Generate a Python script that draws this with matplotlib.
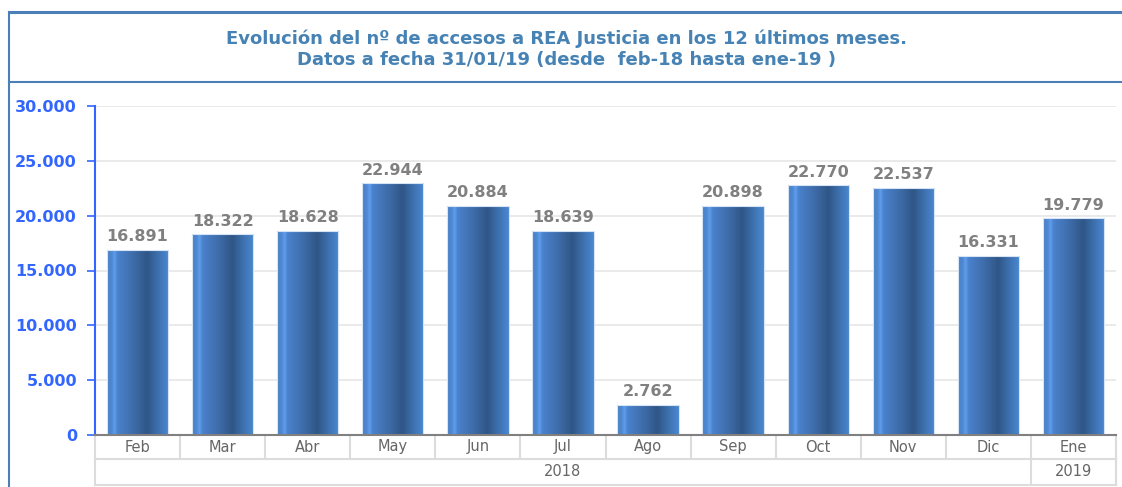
import matplotlib
matplotlib.use("Agg")
import matplotlib.pyplot as plt
import numpy as np
from matplotlib.colors import LinearSegmentedColormap
from matplotlib.lines import Line2D

months = ["Feb", "Mar", "Abr", "May", "Jun", "Jul", "Ago", "Sep", "Oct", "Nov", "Dic", "Ene"]
values = [16891, 18322, 18628, 22944, 20884, 18639, 2762, 20898, 22770, 22537, 16331, 19779]
years = ["2018", "2019"]
year_counts = [11, 1]
yticks = [0, 5000, 10000, 15000, 20000, 25000, 30000]
title = "Evolución del nº de accesos a REA Justicia en los 12 últimos meses.\nDatos a fecha 31/01/19 (desde  feb-18 hasta ene-19 )"

def fmt(v):
    return f"{v:,}".replace(",", ".")

W, H = 1122, 487
fig = plt.figure(figsize=(W / 100, H / 100), dpi=100)
L, R, T, B = 95, 1116, 106, 435
ax = fig.add_axes([L / W, (H - B) / H, (R - L) / W, (B - T) / H])

x = np.arange(len(months))
bars = ax.bar(x, values, width=0.72, color="none", edgecolor="#d6e4f5", linewidth=0.8, zorder=3)

cmap = LinearSegmentedColormap.from_list("barg", [
    (0.0, "#4a80c4"), (0.08, "#4f8ad4"), (0.12, "#609fee"), (0.17, "#4a82cc"),
    (0.45, "#3d6aa6"), (0.65, "#2f5686"), (0.85, "#3f74b4"), (1.0, "#4b88d2")])
grad = np.linspace(0, 1, 256).reshape(1, -1)
for b in bars:
    x0, y0, w, h = b.get_x(), b.get_y(), b.get_width(), b.get_height()
    im = ax.imshow(grad, cmap=cmap, aspect="auto", extent=[x0, x0 + w, y0, y0 + h],
                   zorder=2, interpolation="bilinear")
    im.set_clip_path(b)

for xi, v in zip(x, values):
    ax.text(xi, v + 500, fmt(v), ha="center", va="bottom", fontsize=11.5,
            fontweight="bold", color="#808080", zorder=4)

ax.set_xlim(-0.5, len(months) - 0.5)
ax.set_ylim(0, 30000)
ax.set_yticks(yticks)
ax.set_yticklabels([fmt(t) for t in yticks], fontsize=11.5, fontweight="bold", color="#3366ff")
ax.tick_params(axis="y", length=6, width=1.2, color="#3366ff", pad=7)
ax.set_xticks([])
ax.grid(axis="y", color="#e6e6e6", linewidth=1.2, zorder=0)
ax.set_axisbelow(True)
for s in ["top", "right"]:
    ax.spines[s].set_visible(False)
ax.spines["left"].set_color("#3366ff")
ax.spines["left"].set_linewidth(1.5)
ax.spines["bottom"].set_color("#808080")
ax.spines["bottom"].set_linewidth(1.5)
ax.spines["bottom"].set_zorder(5)

# category table below axes
ph = B - T
r1 = -(459 - B) / ph
r2 = -(485 - B) / ph
n = len(months)
tr = ax.transAxes
gc = "#dcdcdc"
def hline(y, x0=0, x1=1):
    ax.add_line(Line2D([x0, x1], [y, y], transform=tr, color=gc, lw=1.5, clip_on=False))
def vline(xx, y0, y1):
    ax.add_line(Line2D([xx, xx], [y0, y1], transform=tr, color=gc, lw=1.5, clip_on=False))
hline(r1)
hline(r2)
for i in range(n + 1):
    vline(i / n, 0, r1)
vline(0, r1, r2)
vline(1, r1, r2)
for i, m in enumerate(months):
    ax.text((i + 0.5) / n, r1 / 2, m, transform=tr, ha="center", va="center",
            fontsize=10.5, color="#666666")
start = 0
for yl, c in zip(years, year_counts):
    end = start + c
    vline(end / n, r1, r2)
    ax.text((start + end) / 2 / n, (r1 + r2) / 2, yl, transform=tr, ha="center",
            va="center", fontsize=10.5, color="#666666")
    start = end

# frame lines
fc = "#4a7fb8"
fig.add_artist(Line2D([9 / W, 1], [1 - 12 / H, 1 - 12 / H], transform=fig.transFigure, color=fc, lw=2.2))
fig.add_artist(Line2D([9 / W, 1], [1 - 82 / H, 1 - 82 / H], transform=fig.transFigure, color=fc, lw=1.5))
fig.add_artist(Line2D([9 / W, 9 / W], [0, 1 - 12 / H], transform=fig.transFigure, color=fc, lw=1.5))

fig.text(566 / W, 1 - 49 / H, title, ha="center", va="center", fontsize=13,
         fontweight="bold", color="#4682b4", linespacing=1.25,
         family=["Liberation Sans Narrow", "DejaVu Sans"])

fig.savefig("out.png", dpi=100)
